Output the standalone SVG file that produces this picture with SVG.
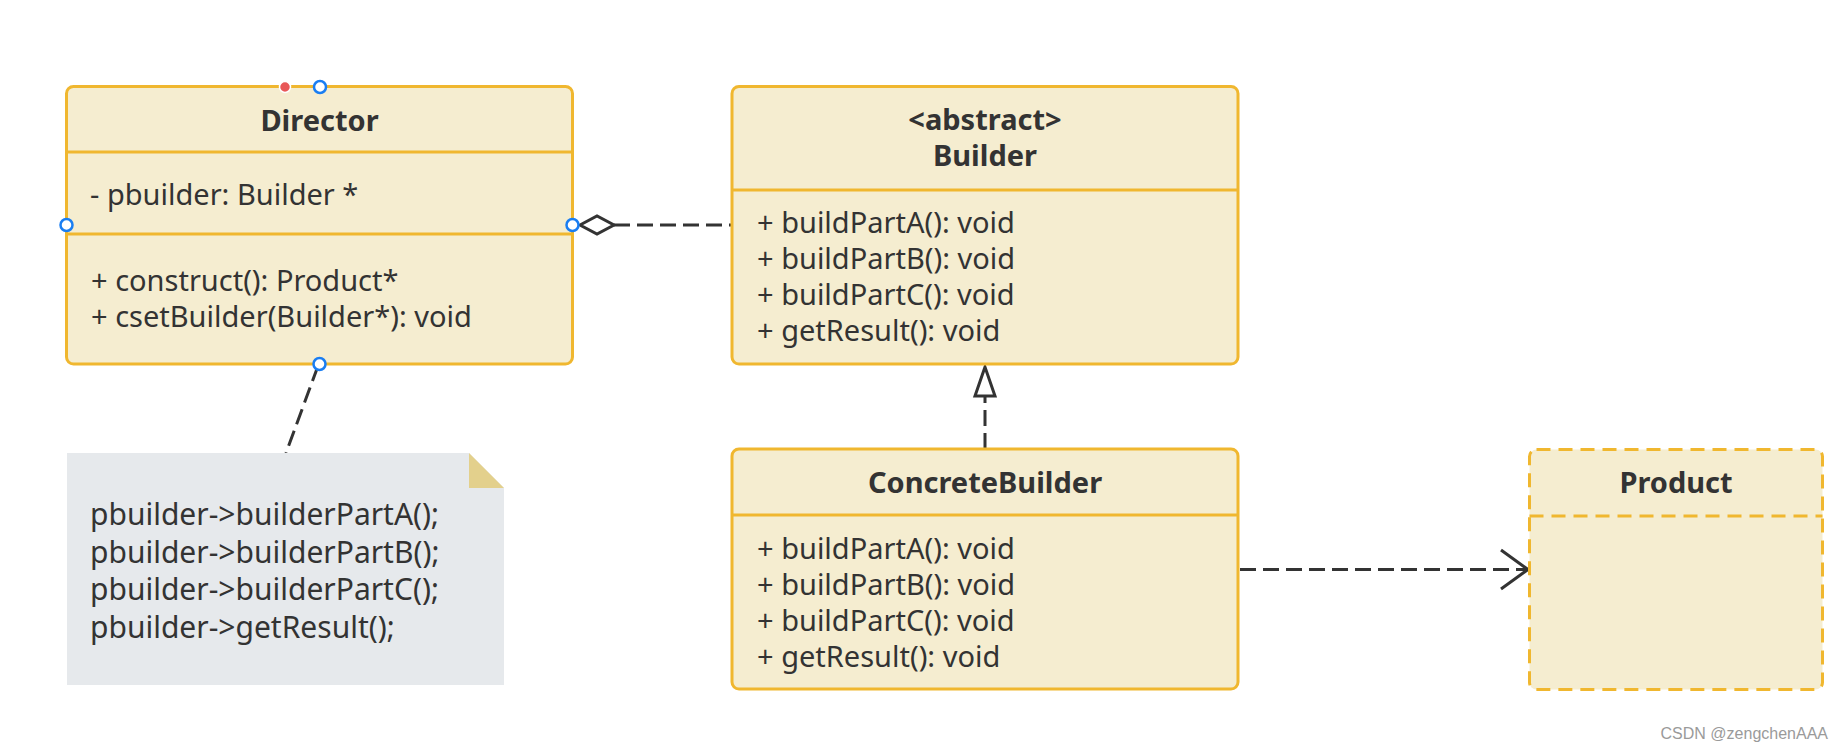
<svg xmlns="http://www.w3.org/2000/svg" width="1845" height="752" viewBox="0 0 1845 752">
<defs>
<style>
.box{fill:#F5EDD0;stroke:#F0B72F;stroke-width:3}
.div{stroke:#F0B72F;stroke-width:3;fill:none}
.dash{stroke-dasharray:14 8}
.t{font-family:"Noto Sans","Open Sans","DejaVu Sans",sans-serif;font-size:29px;fill:#333333}
.b{font-weight:bold;text-anchor:middle}
.n{font-size:30px}
.conn{stroke:#333333;stroke-width:3;fill:none}
.cd{stroke-dasharray:16 7}
.h{fill:#ffffff;stroke:#1A7EF2;stroke-width:2.5}
</style>
</defs>
<rect width="1845" height="752" fill="#ffffff"/>

<g id="connectors">
<line class="conn cd" x1="614" y1="225" x2="731" y2="225"/>
<polygon points="580,225 597,216 614,225 597,234" fill="#ffffff" stroke="#333333" stroke-width="3" stroke-linejoin="miter"/>
<line class="conn cd" x1="985" y1="449" x2="985" y2="396"/>
<polygon points="985,367 975,396 995,396" fill="#ffffff" stroke="#333333" stroke-width="3" stroke-linejoin="miter"/>
<line class="conn cd" x1="1240" y1="569.5" x2="1526" y2="569.5"/>
<polyline class="conn" points="1501,550 1528,569.5 1501,589"/>
<line class="conn cd" x1="318" y1="366" x2="286" y2="453"/>
</g>

<g id="director">
<rect class="box" x="66.5" y="86.5" width="506" height="277.5" rx="7"/>
<line class="div" x1="66.5" y1="152" x2="572.5" y2="152"/>
<line class="div" x1="66.5" y1="234" x2="572.5" y2="234"/>
<text class="t b" x="319.5" y="131">Director</text>
<text class="t" x="90" y="205">- pbuilder: Builder *</text>
<text class="t" x="91" y="291">+ construct(): Product*</text>
<text class="t" x="91" y="327">+ csetBuilder(Builder*): void</text>
<circle cx="285" cy="87" r="5.5" fill="#E85858" stroke="#ffffff" stroke-width="1.5"/>
<circle class="h" cx="320" cy="87" r="6"/>
<circle class="h" cx="66.5" cy="225" r="6"/>
<circle class="h" cx="572.5" cy="225" r="6"/>
<circle class="h" cx="319.5" cy="364" r="6"/>
</g>

<g id="builder">
<rect class="box" x="732" y="86.5" width="506" height="277.5" rx="7"/>
<line class="div" x1="732" y1="190" x2="1238" y2="190"/>
<text class="t b" x="985" y="130">&lt;abstract&gt;</text>
<text class="t b" x="985" y="166">Builder</text>
<text class="t" x="757" y="233">+ buildPartA(): void</text>
<text class="t" x="757" y="269">+ buildPartB(): void</text>
<text class="t" x="757" y="305">+ buildPartC(): void</text>
<text class="t" x="757" y="341">+ getResult(): void</text>
</g>

<g id="concretebuilder">
<rect class="box" x="732" y="449" width="506" height="240" rx="7"/>
<line class="div" x1="732" y1="515" x2="1238" y2="515"/>
<text class="t b" x="985" y="493">ConcreteBuilder</text>
<text class="t" x="757" y="558.5">+ buildPartA(): void</text>
<text class="t" x="757" y="594.5">+ buildPartB(): void</text>
<text class="t" x="757" y="630.5">+ buildPartC(): void</text>
<text class="t" x="757" y="666.5">+ getResult(): void</text>
</g>

<g id="product">
<rect class="box dash" x="1529.5" y="449.5" width="293" height="240" rx="7"/>
<line class="div dash" x1="1529.5" y1="516" x2="1822.5" y2="516"/>
<text class="t b" x="1676" y="493">Product</text>
</g>

<g id="note">
<polygon points="67,453 469,453 504,488 504,685 67,685" fill="#E6E9EC"/>
<polygon points="469,453 469,488 504,488" fill="#E3D08C"/>
<text class="t n" x="90" y="525">pbuilder-&gt;builderPartA();</text>
<text class="t n" x="90" y="562.5">pbuilder-&gt;builderPartB();</text>
<text class="t n" x="90" y="600">pbuilder-&gt;builderPartC();</text>
<text class="t n" x="90" y="638">pbuilder-&gt;getResult();</text>
</g>

<text x="1828" y="739" text-anchor="end" font-family="Liberation Sans, Arial, sans-serif" font-size="16" fill="#9A9A9A">CSDN @zengchenAAA</text>
</svg>
